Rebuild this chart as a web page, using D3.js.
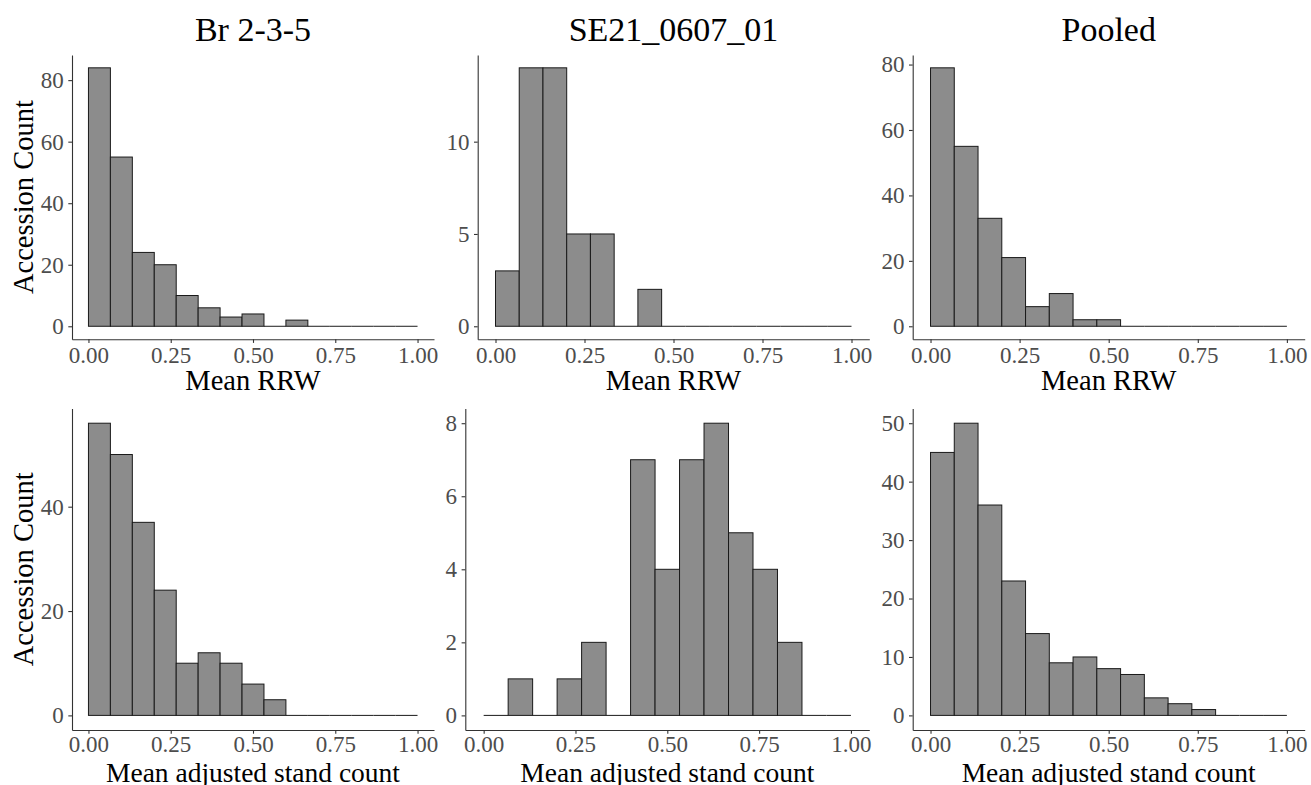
<!DOCTYPE html>
<html>
<head>
<meta charset="utf-8">
<script src="https://cdn.jsdelivr.net/npm/d3@7"></script>
<style>
  body { margin: 0; background: #fff; }
  svg { display: block; font-family: "Liberation Serif", "Times New Roman", serif; }
  .axis path, .axis line { stroke: #333; stroke-width: 1.1; }
  .axis text { fill: #4d4d4d; }
</style>
</head>
<body>
<script>
// histogram bins: 15 equal bins between 0 and 1
var binCount = 15;
var xTicks = [0, 0.25, 0.5, 0.75, 1];

var columnTitles = ['Br 2-3-5', 'SE21_0607_01', 'Pooled'];
var rowLabels = ['Mean RRW', 'Mean adjusted stand count'];

// counts per bin
var brRRW       = [84, 55, 24, 20, 10, 6, 3, 4, 0, 2, 0, 0, 0, 0, 0];
var seRRW       = [3, 14, 14, 5, 5, 0, 2, 0, 0, 0, 0, 0, 0, 0, 0];
var pooledRRW   = [79, 55, 33, 21, 6, 10, 2, 2, 0, 0, 0, 0, 0, 0, 0];
var brStand     = [56, 50, 37, 24, 10, 12, 10, 6, 3, 0, 0, 0, 0, 0, 0];
var seStand     = [0, 1, 0, 1, 2, 0, 7, 4, 7, 8, 5, 4, 2, 0, 0];
var pooledStand = [45, 50, 36, 23, 14, 9, 10, 8, 7, 3, 2, 1, 0, 0, 0];

// y tick labels per panel
var brRRWTicks       = [0, 20, 40, 60, 80];
var seRRWTicks       = [0, 5, 10];
var pooledRRWTicks   = [0, 20, 40, 60, 80];
var brStandTicks     = [0, 20, 40];
var seStandTicks     = [0, 2, 4, 6, 8];
var pooledStandTicks = [0, 10, 20, 30, 40, 50];

var panels = [
  [{ counts: brRRW, ticks: brRRWTicks }, { counts: seRRW, ticks: seRRWTicks }, { counts: pooledRRW, ticks: pooledRRWTicks }],
  [{ counts: brStand, ticks: brStandTicks }, { counts: seStand, ticks: seStandTicks }, { counts: pooledStand, ticks: pooledStandTicks }]
];

var width = 1311,
    height = 785;

// panel geometry (left edge depends on tick label width, like ggarrange)
var plotLeft = [[72, 477.7, 912.7], [72, 465.3, 912.7]];
var plotRight = [434, 869.3, 1304.7];
var rowTop = [54.9, 408.6];
var rowBottom = [339.2, 730];
var xTickPad = [3.3, 1.6];
var xTitleOffset = [51, 51.5];
var xTitleSize = [28.5, 27.5];

var svg = d3.select('body').append('svg')
    .attr('width', width)
    .attr('height', height);

var edges = d3.range(binCount + 1).map(function(i) { return i / binCount; });

panels.forEach(function(row, r) {
  row.forEach(function(p, c) {
    var left = plotLeft[r][c], right = plotRight[c];
    var top = rowTop[r], bottom = rowBottom[r];
    var maxCount = d3.max(p.counts);

    // ggplot style 5% expansion on both axes
    var x = d3.scaleLinear().domain([-0.05, 1.05]).range([left, right]);
    var y = d3.scaleLinear().domain([-0.05 * maxCount, 1.05 * maxCount]).range([bottom, top]);

    var bins = p.counts.map(function(n, i) {
      return { x0: edges[i], x1: edges[i + 1], n: n };
    });

    var g = svg.append('g');

    g.selectAll('.bar')
      .data(bins.filter(function(d) { return d.n > 0; }))
      .enter().append('rect')
      .attr('class', 'bar')
      .attr('x', function(d) { return x(d.x0); })
      .attr('y', function(d) { return y(d.n); })
      .attr('width', function(d) { return x(d.x1) - x(d.x0); })
      .attr('height', function(d) { return y(0) - y(d.n); })
      .attr('fill', '#8c8c8c')
      .attr('stroke', '#1a1a1a')
      .attr('stroke-width', 1);

    // empty bins still show as a flat outline at zero
    g.selectAll('.empty')
      .data(bins.filter(function(d) { return d.n === 0; }))
      .enter().append('line')
      .attr('class', 'empty')
      .attr('x1', function(d) { return x(d.x0); })
      .attr('x2', function(d) { return x(d.x1); })
      .attr('y1', y(0))
      .attr('y2', y(0))
      .attr('stroke', '#1a1a1a')
      .attr('stroke-width', 1);

    g.append('g')
      .attr('class', 'axis')
      .attr('transform', 'translate(' + left + ',0)')
      .call(d3.axisLeft(y).tickValues(p.ticks).tickSize(3.7).tickSizeOuter(0).tickPadding(4.6))
      .attr('font-family', '"Liberation Serif", serif')
      .attr('font-size', 23);

    g.append('g')
      .attr('class', 'axis')
      .attr('transform', 'translate(0,' + bottom + ')')
      .call(d3.axisBottom(x).tickValues(xTicks).tickFormat(d3.format('.2f')).tickSize(3.7).tickSizeOuter(0).tickPadding(xTickPad[r]))
      .attr('font-family', '"Liberation Serif", serif')
      .attr('font-size', 23);

    // x axis title
    g.append('text')
      .attr('x', (left + right) / 2)
      .attr('y', bottom + xTitleOffset[r])
      .attr('text-anchor', 'middle')
      .style('font-size', xTitleSize[r] + 'px')
      .text(rowLabels[r]);

    if (r === 0) {
      g.append('text')
        .attr('x', (left + right) / 2)
        .attr('y', 41)
        .attr('text-anchor', 'middle')
        .style('font-size', '34px')
        .text(columnTitles[c]);
    }

    if (c === 0) {
      g.append('text')
        .attr('transform', 'translate(33,' + (top + bottom) / 2 + ') rotate(-90)')
        .attr('text-anchor', 'middle')
        .style('font-size', '28.5px')
        .text('Accession Count');
    }
  });
});
</script>
</body>
</html>
